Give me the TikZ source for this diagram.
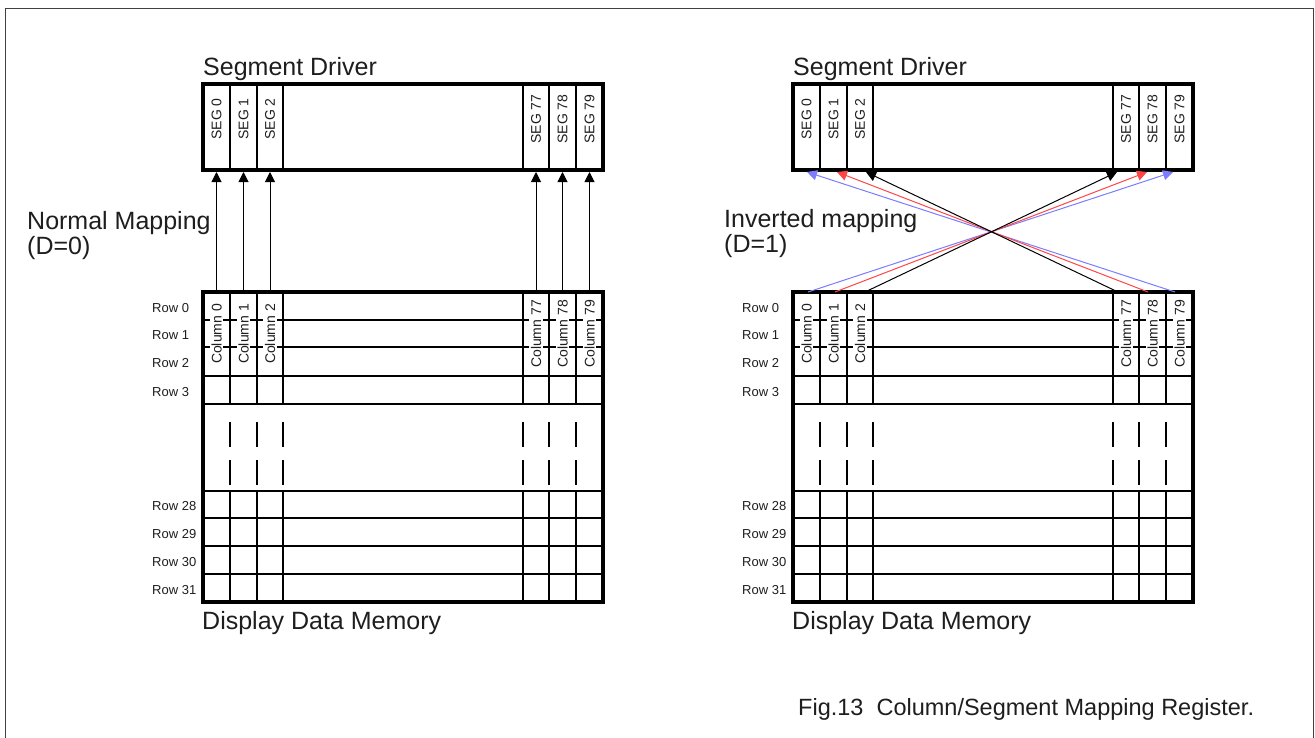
\documentclass[tikz,border=0pt]{standalone}
\usepackage{fontspec}
\setmainfont{Liberation Sans}
\usetikzlibrary{arrows.meta}
\definecolor{mapblue}{RGB}{125,125,255}
\definecolor{mapred}{RGB}{255,70,70}
\definecolor{inkgray}{RGB}{30,30,30}
\newcommand{\mypanel}{%
  % segment driver box
  \foreach \cx in {230,257,283,523,549,576} \draw[gridline] (\cx,84) -- (\cx,170);
  \draw[thickbox] (203,84) rectangle (603,170);
  \foreach \cx/\t in {216.5/0,243.5/1,270/2,536/77,562.5/78,589.5/79}
    \node[vlabel] at (\cx,119) {SEG \t};
  \node[biglabel] at (203,75) {Segment Driver};
  % display data memory
  \foreach \ry in {320,347,376,404,491,518,546,574} \draw[gridline] (203,\ry) -- (603,\ry);
  \foreach \cx in {230,257,283,523,549,576} {
    \draw[gridline] (\cx,292) -- (\cx,404);
    \draw[gridline] (\cx,422) -- (\cx,447);
    \draw[gridline] (\cx,460) -- (\cx,485);
    \draw[gridline] (\cx,491) -- (\cx,602);
  }
  \foreach \cx/\t in {216.5/0,243.5/1,270/2,536/77,562.5/78,589.5/79}
    \node[vlabel,fill=white] at (\cx,334) {Column \t};
  \draw[thickbox] (203,292) rectangle (603,602);
  \foreach \ry/\t in {308/0,335/1,363/2,392/3,506/28,534/29,562/30,590/31}
    \node[rowlabel] at (152,\ry) {Row \t};
  \node[biglabel] at (202,629) {Display Data Memory};
}
\begin{document}
\begin{tikzpicture}[x=1pt,y=-1pt,
  thickbox/.style={line width=3.5pt},
  gridline/.style={line width=1.1pt},
  biglabel/.style={font=\fontsize{25}{26}\selectfont, text=inkgray, inner sep=0pt, anchor=base west},
  rowlabel/.style={font=\fontsize{13}{14}\selectfont, text=inkgray, inner sep=0pt, anchor=west},
  vlabel/.style={font=\fontsize{14}{15}\selectfont, text=inkgray, rotate=90, inner sep=1.5pt},
  maparrow/.style={line width=1pt, -{Triangle[length=10pt,width=10pt]}},
]
\useasboundingbox (0,0) rectangle (1315,737);
\fill[white] (0,0) rectangle (1315,737);
\draw[line width=1pt, black!75] (5,745) -- (5,8) -- (1313,8) -- (1313,745);

% left panel
\mypanel
% right panel
\begin{scope}[xshift=590pt]
\mypanel
\end{scope}

% normal mapping connectors
\foreach \n/\cx in {0/216.5,1/243.5,2/270,77/536,78/562.5,79/589.5} {
  \coordinate (nc\n) at (\cx,292);
  \coordinate (ns\n) at (\cx,172);
}
\foreach \n in {0,1,2,77,78,79} \draw[maparrow] (nc\n) -- (ns\n);

\node[biglabel] (normal) at (27,229) {Normal Mapping};
\node[biglabel] (normald) at (27,254) {(D=0)};

% inverted mapping connectors
\coordinate (ic0) at (808,292);
\coordinate (ic1) at (835,292);
\coordinate (ic2) at (865,292);
\coordinate (ic77) at (1118,292);
\coordinate (ic78) at (1148,292);
\coordinate (ic79) at (1175,292);
\coordinate (is0) at (807,172);
\coordinate (is1) at (837,172);
\coordinate (is2) at (866,172);
\coordinate (is77) at (1117,172);
\coordinate (is78) at (1147,172);
\coordinate (is79) at (1173,172);

\draw[maparrow, mapblue] (ic0) -- (is79);
\draw[maparrow, mapblue] (ic79) -- (is0);
\draw[maparrow, mapred] (ic1) -- (is78);
\draw[maparrow, mapred] (ic78) -- (is1);
\draw[maparrow, black] (ic2) -- (is77);
\draw[maparrow, black] (ic77) -- (is2);

\node[biglabel] (inverted) at (724,227) {Inverted mapping};
\node[biglabel] (invertedd) at (724,252) {(D=1)};

\node[biglabel, font=\fontsize{23.5}{25}\selectfont] (caption) at (798,715) {Fig.13\ \ Column/Segment Mapping Register.};
\end{tikzpicture}
\end{document}
